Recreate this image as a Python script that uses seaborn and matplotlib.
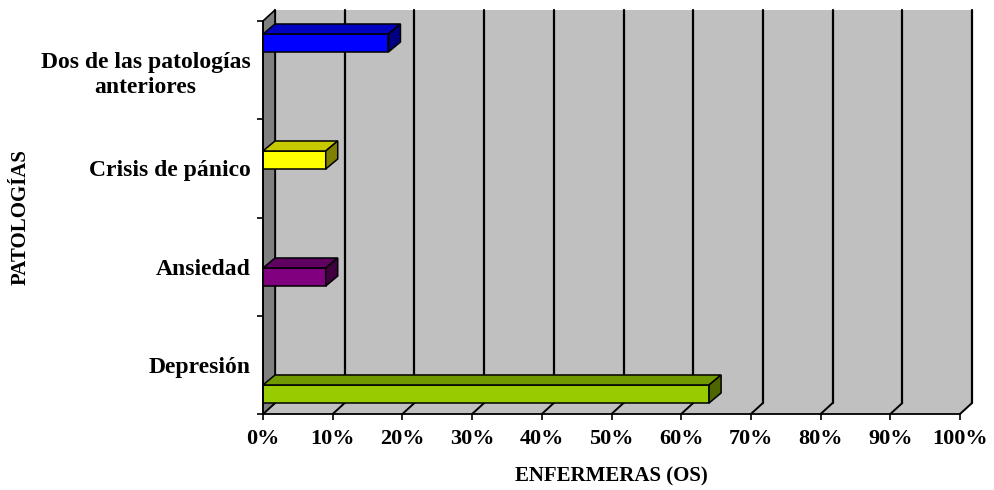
import numpy as np
import pandas as pd
import matplotlib
matplotlib.use('Agg')
import matplotlib.pyplot as plt
from matplotlib.patches import Polygon
from matplotlib.lines import Line2D
from matplotlib.transforms import IdentityTransform
from matplotlib.ticker import FixedLocator, FuncFormatter
import seaborn as sns

# datos
categorias = ['Dos de las patologías\nanteriores', 'Crisis de pánico', 'Ansiedad', 'Depresión']
porcentajes = [18, 9, 9, 64]
x_ticks = [0, 10, 20, 30, 40, 50, 60, 70, 80, 90, 100]

# colores estilo excel 3D (frente, arriba, lado)
frente = ['#0000ff', '#ffff00', '#800080', '#99cc00']
arriba = ['#0000c0', '#c8c800', '#600060', '#709900']
lado = ['#000080', '#808000', '#400040', '#4d6600']

sns.set_style('white')
plt.rcParams['font.family'] = ['Liberation Serif', 'DejaVu Serif']
plt.rcParams['font.weight'] = 'bold'
plt.rcParams['text.color'] = 'black'
plt.rcParams['xtick.color'] = 'black'
plt.rcParams['ytick.color'] = 'black'
plt.rcParams['axes.labelcolor'] = 'black'

fig = plt.figure(figsize=(9.95, 4.9), dpi=100)
ax = fig.add_axes([263/995, 76/490, 697/995, 393/490])
ax.patch.set_visible(False)

df = pd.DataFrame({'pat': categorias, 'pct': porcentajes})
sns.barplot(data=df, x='pct', y='pat', hue='pat', palette=frente, orient='h',
            width=0.154, saturation=1, edgecolor='black', linewidth=1.1,
            legend=False, ax=ax, zorder=5)
ax.set_xlim(0, 100)
ax.set_ylim(3.171, -0.188)

# profundidad en pixeles
dx, dy = 12, 11
bdx, bdy = 12, 10
ident = IdentityTransform()

def disp(x, y):
    return ax.transAxes.transform((x, y))

A = disp(0, 0); B = disp(1, 0); C = disp(1, 1); D = disp(0, 1)
d = np.array([dx, dy])

# pared del fondo y piso
ax.add_patch(Polygon([A, B, B + d, C + d, D + d, D], closed=True,
                     facecolor='#c0c0c0', edgecolor='none',
                     transform=ident, clip_on=False, zorder=0))

# lineas de la grilla (pared y piso)
for xt in x_ticks:
    f = ax.transData.transform((xt, ax.get_ylim()[0]))
    top = ax.transData.transform((xt, ax.get_ylim()[1]))
    ax.add_line(Line2D([f[0], f[0] + dx], [f[1], f[1] + dy], color='black', lw=1.4,
                       transform=ident, clip_on=False, zorder=1))
    ax.add_line(Line2D([f[0] + dx, top[0] + dx], [f[1] + dy, top[1] + dy], color='black',
                       lw=1.6, transform=ident, clip_on=False, zorder=1))

# pared izquierda
ax.add_patch(Polygon([A, D, D + d, A + d], closed=True, facecolor='#808080',
                     edgecolor='black', lw=1.2, transform=ident, clip_on=False, zorder=2))

# caras 3D de las barras
barras = [p for p in ax.patches if p.get_zorder() == 5][:len(categorias)]
for i, p in enumerate(barras):
    x0, y0 = p.get_x(), p.get_y()
    x1, y1 = x0 + p.get_width(), y0 + p.get_height()
    pa = ax.transData.transform((x0, y0)); pb = ax.transData.transform((x1, y1))
    L, R = pa[0], pb[0]
    T, Bt = max(pa[1], pb[1]), min(pa[1], pb[1])
    ax.add_patch(Polygon([(L, T), (R, T), (R + bdx, T + bdy), (L + bdx, T + bdy)],
                         closed=True, facecolor=arriba[i], edgecolor='black', lw=1.1,
                         transform=ident, clip_on=False, zorder=6))
    ax.add_patch(Polygon([(R, Bt), (R, T), (R + bdx, T + bdy), (R + bdx, Bt + bdy)],
                         closed=True, facecolor=lado[i], edgecolor='black', lw=1.1,
                         transform=ident, clip_on=False, zorder=6))
    p.set_clip_on(False)

# ejes
for s in ['top', 'right']:
    ax.spines[s].set_visible(False)
for s in ['left', 'bottom']:
    ax.spines[s].set_color('black')
    ax.spines[s].set_linewidth(1.3)
    ax.spines[s].set_zorder(7)

ax.set_xticks(x_ticks)
ax.xaxis.set_major_formatter(FuncFormatter(lambda v, pos: f'{int(v)}%'))
ax.tick_params(axis='x', direction='out', length=4.5, width=1.2, color='black',
               pad=6, labelsize=16, bottom=True, labelcolor='black')

ylo, yhi = ax.get_ylim()
limites = np.linspace(yhi, ylo, len(categorias) + 1)
centros = (limites[:-1] + limites[1:]) / 2
ax.yaxis.set_major_locator(FixedLocator(centros))
ax.set_yticklabels(categorias)
ax.yaxis.set_minor_locator(FixedLocator(limites))
ax.tick_params(axis='y', which='major', length=0, pad=9, labelsize=17, left=True,
               labelcolor='black')
ax.tick_params(axis='y', which='minor', direction='out', length=4.5, width=1.2,
               color='black', left=True)
for t in ax.get_yticklabels():
    t.set_multialignment('center')
    t.set_linespacing(1.3)
for t in ax.get_xticklabels() + ax.get_yticklabels():
    t.set_fontweight('bold')

ax.set_xlabel('ENFERMERAS (OS)', fontsize=15, fontweight='bold', labelpad=13,
              color='black')
ax.set_ylabel('PATOLOGÍAS', fontsize=15, fontweight='bold', color='black')
ax.yaxis.set_label_coords(-0.333, 0.5)

fig.savefig('out.png', dpi=100)
